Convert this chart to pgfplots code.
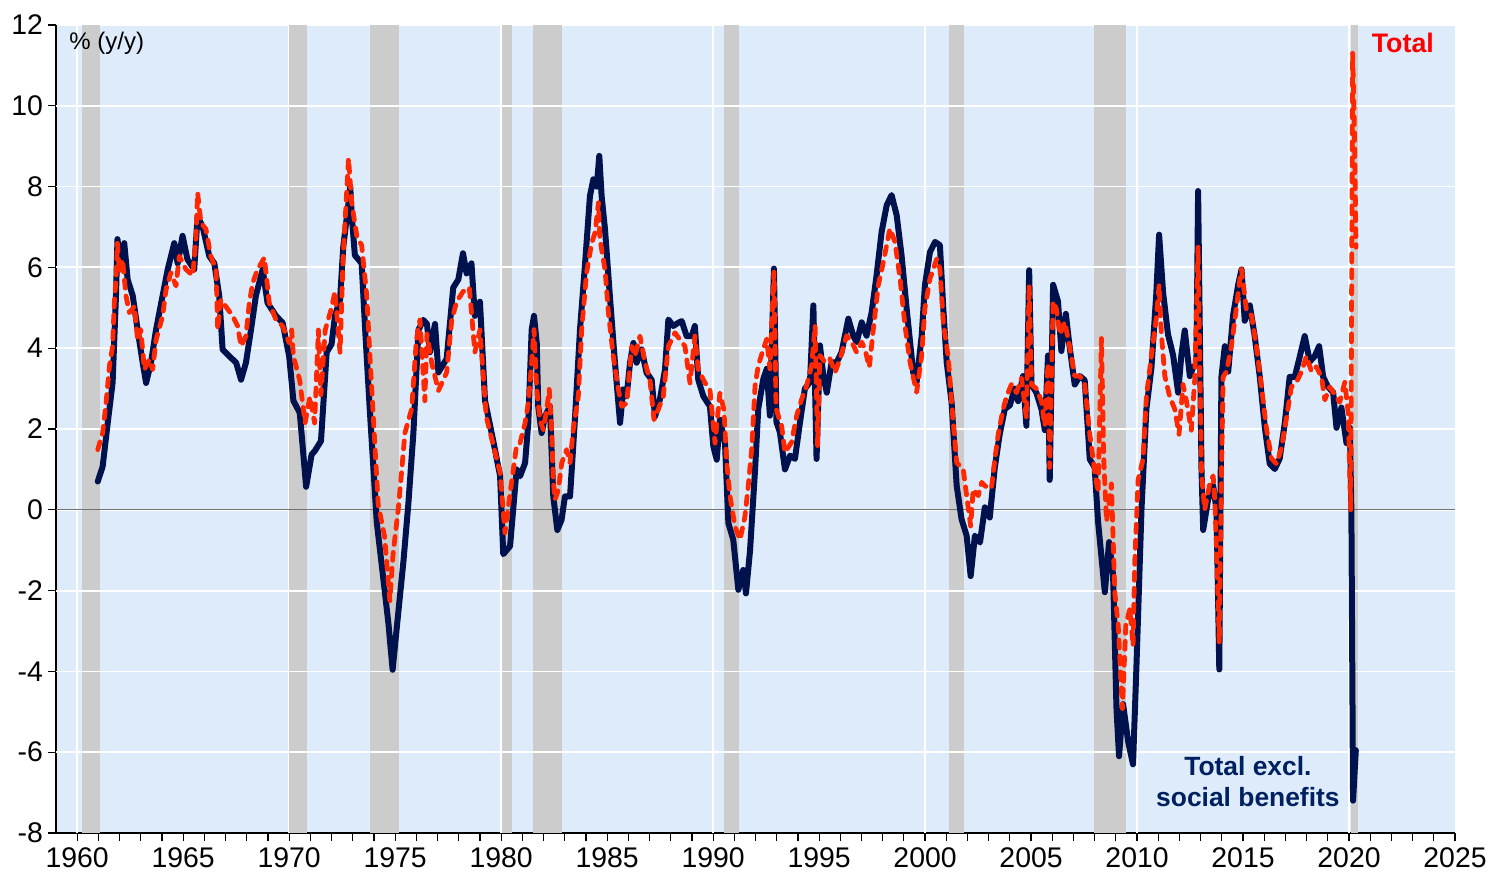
\documentclass[border=0pt]{standalone}
\usepackage{pgfplots}
\pgfplotsset{compat=1.18}
\usepackage{pgfplotstable}
\usepackage{fontspec}
\setmainfont{Liberation Sans}
\definecolor{bgblue}{RGB}{221,235,251}
\definecolor{recgray}{RGB}{204,204,204}
\definecolor{navy}{RGB}{0,18,77}
\definecolor{redor}{RGB}{255,40,0}
\definecolor{lblnavy}{RGB}{0,32,96}

\pgfplotstableread{
x y
1960.97 0.70
1961.20 1.07
1961.44 2.15
1961.67 3.14
1961.83 5.30
1961.90 6.70
1962.07 5.95
1962.22 6.60
1962.38 5.70
1962.62 5.30
1962.85 4.46
1963.09 3.64
1963.25 3.14
1963.48 3.64
1963.72 4.46
1964.03 5.30
1964.27 5.95
1964.58 6.60
1964.74 6.10
1964.97 6.78
1965.20 6.20
1965.52 5.95
1965.68 7.27
1965.92 7.00
1966.23 6.28
1966.47 6.10
1966.70 5.30
1966.86 3.97
1967.18 3.80
1967.50 3.64
1967.73 3.22
1967.96 3.64
1968.20 4.46
1968.43 5.30
1968.75 5.95
1968.98 5.12
1969.38 4.80
1969.69 4.63
1970.00 3.80
1970.20 2.70
1970.50 2.40
1970.80 0.57
1971.06 1.37
1971.20 1.45
1971.50 1.70
1971.77 3.90
1972.00 4.10
1972.16 4.80
1972.40 5.20
1972.55 6.50
1972.80 7.60
1972.88 8.00
1972.95 7.30
1973.10 6.30
1973.42 6.10
1973.58 4.50
1973.80 2.50
1974.13 -0.30
1974.44 -1.70
1974.68 -2.80
1974.88 -3.96
1975.07 -2.95
1975.39 -1.28
1975.62 0.13
1975.86 1.90
1976.10 4.45
1976.33 4.70
1976.50 4.60
1976.64 3.90
1976.88 4.60
1977.04 3.40
1977.43 3.74
1977.74 5.50
1977.98 5.70
1978.20 6.35
1978.37 5.85
1978.60 6.10
1978.76 4.80
1979.00 5.15
1979.24 2.70
1979.63 1.70
1979.95 0.84
1980.10 -1.10
1980.42 -0.90
1980.73 1.00
1980.89 0.83
1981.13 1.16
1981.28 2.15
1981.44 4.46
1981.55 4.80
1981.68 4.13
1981.75 2.56
1981.91 1.90
1982.07 2.31
1982.30 2.56
1982.46 0.33
1982.65 -0.50
1982.85 -0.25
1983.01 0.33
1983.25 0.33
1983.48 2.23
1983.72 4.46
1983.96 6.10
1984.19 7.77
1984.35 8.18
1984.51 8.00
1984.63 8.76
1984.74 7.77
1984.90 6.94
1985.13 5.29
1985.37 3.64
1985.61 2.15
1985.76 2.98
1985.92 2.81
1986.08 3.64
1986.24 4.13
1986.39 3.64
1986.63 3.97
1986.86 3.39
1987.10 3.22
1987.26 2.31
1987.49 2.73
1987.73 3.47
1987.89 4.71
1988.12 4.55
1988.36 4.63
1988.52 4.67
1988.75 4.30
1988.99 4.30
1989.14 4.55
1989.30 3.22
1989.54 2.81
1989.85 2.56
1990.01 1.57
1990.17 1.24
1990.32 2.23
1990.56 1.65
1990.72 -0.33
1990.95 -0.74
1991.19 -1.98
1991.42 -1.49
1991.55 -2.07
1991.74 -1.02
1991.98 1.00
1992.13 2.50
1992.37 3.24
1992.53 3.49
1992.68 2.33
1992.87 5.97
1992.99 2.17
1993.15 1.92
1993.39 1.00
1993.63 1.34
1993.86 1.26
1994.10 2.17
1994.33 3.00
1994.57 3.16
1994.73 5.06
1994.88 1.26
1995.04 4.07
1995.20 3.32
1995.36 2.90
1995.59 3.65
1995.83 3.65
1996.06 3.90
1996.38 4.73
1996.61 4.31
1996.77 4.15
1997.01 4.64
1997.24 4.31
1997.48 4.89
1997.71 5.80
1997.95 6.88
1998.19 7.54
1998.42 7.79
1998.66 7.29
1998.89 6.30
1999.13 4.98
1999.44 3.40
1999.60 3.16
1999.84 4.31
1999.99 5.55
2000.23 6.38
2000.47 6.63
2000.70 6.55
2000.86 4.98
2001.02 3.65
2001.25 2.66
2001.49 0.60
2001.72 -0.23
2001.96 -0.64
2002.15 -1.64
2002.35 -0.64
2002.59 -0.81
2002.82 0.06
2003.05 -0.19
2003.29 1.05
2003.52 1.87
2003.76 2.49
2004.00 2.59
2004.23 3.00
2004.39 2.69
2004.62 3.31
2004.78 2.08
2004.91 5.93
2005.02 3.10
2005.25 2.90
2005.49 2.49
2005.65 1.97
2005.80 3.82
2005.88 0.74
2006.04 5.57
2006.27 5.16
2006.43 3.93
2006.64 4.85
2006.82 4.03
2007.06 3.10
2007.30 3.31
2007.53 3.21
2007.77 1.25
2008.00 1.05
2008.16 -0.29
2008.48 -2.04
2008.68 -0.80
2008.87 -1.62
2009.03 -4.92
2009.15 -6.10
2009.34 -4.81
2009.58 -5.74
2009.81 -6.30
2009.97 -3.89
2010.21 0.02
2010.44 2.49
2010.68 3.52
2010.91 5.37
2011.04 6.81
2011.23 5.37
2011.46 4.34
2011.70 3.83
2011.94 2.90
2012.09 3.83
2012.25 4.44
2012.49 3.31
2012.64 3.52
2012.80 3.60
2012.88 7.89
2013.04 1.00
2013.12 -0.50
2013.35 0.25
2013.59 0.60
2013.75 0.00
2013.88 -3.95
2013.98 3.29
2014.14 4.05
2014.30 3.42
2014.53 4.81
2014.77 5.57
2014.93 5.95
2015.08 4.68
2015.32 5.06
2015.55 4.30
2015.79 3.29
2016.03 2.03
2016.26 1.14
2016.50 1.01
2016.73 1.27
2016.97 2.15
2017.20 3.29
2017.44 3.29
2017.68 3.80
2017.91 4.30
2018.15 3.67
2018.38 3.80
2018.59 4.05
2018.78 3.29
2019.01 3.04
2019.25 2.91
2019.41 2.03
2019.64 2.53
2019.88 1.65
2020.04 2.03
2020.11 0.00
2020.19 -7.20
2020.32 -5.95
}\exclsb

\pgfplotstableread{
x y
1960.97 1.49
1961.20 1.90
1961.36 2.64
1961.52 3.55
1961.67 4.05
1961.75 5.12
1961.83 5.70
1961.90 6.60
1961.99 5.87
1962.14 6.20
1962.30 5.30
1962.46 4.88
1962.70 5.04
1962.85 4.20
1963.00 4.46
1963.17 3.47
1963.40 3.72
1963.56 3.47
1963.72 4.20
1964.03 4.80
1964.19 5.45
1964.42 5.87
1964.66 5.54
1964.82 6.28
1965.13 5.95
1965.45 5.80
1965.60 6.70
1965.68 7.85
1965.84 7.10
1966.07 6.95
1966.30 6.28
1966.55 5.95
1966.63 4.46
1966.78 5.20
1967.00 5.04
1967.33 4.80
1967.57 4.55
1967.73 4.05
1967.96 4.30
1968.12 5.12
1968.28 5.62
1968.51 5.95
1968.83 6.24
1969.06 5.12
1969.38 4.70
1969.69 4.55
1970.00 4.13
1970.12 4.45
1970.20 3.80
1970.50 3.20
1970.75 2.15
1970.98 2.80
1971.20 2.15
1971.38 4.45
1971.50 2.85
1971.70 4.45
1972.00 5.00
1972.16 5.40
1972.40 3.90
1972.55 6.30
1972.80 8.70
1972.95 7.60
1973.20 6.75
1973.42 6.55
1973.66 5.30
1973.80 3.90
1973.97 2.30
1974.20 0.13
1974.50 -0.66
1974.75 -2.25
1974.90 -1.10
1975.15 0.04
1975.30 0.92
1975.46 1.90
1975.78 2.50
1976.00 4.20
1976.17 4.70
1976.40 2.70
1976.50 4.35
1976.72 3.65
1977.04 2.95
1977.43 3.40
1977.67 4.70
1977.90 5.15
1978.20 5.40
1978.50 5.50
1978.76 3.90
1979.00 4.45
1979.30 2.30
1979.63 1.60
1979.95 0.92
1980.18 -0.57
1980.42 0.40
1980.73 1.60
1980.89 1.65
1981.13 2.15
1981.28 2.64
1981.44 3.64
1981.55 4.46
1981.68 2.98
1981.83 2.23
1981.99 1.98
1982.15 2.48
1982.27 2.98
1982.38 1.98
1982.46 0.74
1982.54 0.25
1982.70 0.50
1982.86 1.16
1983.09 1.49
1983.25 1.16
1983.40 1.98
1983.64 2.81
1983.80 4.46
1984.03 5.87
1984.27 6.60
1984.43 6.86
1984.59 7.60
1984.66 6.70
1984.90 5.95
1985.06 4.88
1985.29 3.80
1985.53 2.98
1985.69 2.56
1985.92 2.64
1986.16 4.05
1986.31 3.80
1986.55 4.30
1986.79 3.64
1987.02 3.22
1987.21 2.23
1987.41 2.48
1987.65 2.81
1987.89 4.05
1988.20 4.38
1988.44 4.21
1988.67 4.05
1988.91 3.14
1989.14 4.30
1989.30 3.47
1989.62 3.14
1989.85 2.98
1990.09 1.65
1990.32 2.89
1990.51 2.48
1990.64 1.16
1990.80 0.33
1991.03 -0.41
1991.27 -0.74
1991.50 -0.17
1991.66 0.60
1991.82 1.50
1991.98 3.07
1992.13 3.57
1992.37 3.98
1992.53 4.23
1992.68 3.49
1992.87 5.88
1992.97 2.50
1993.23 2.08
1993.39 1.42
1993.70 1.67
1993.94 2.33
1994.18 2.74
1994.41 3.07
1994.65 3.57
1994.81 4.56
1994.93 1.59
1995.04 3.82
1995.28 3.65
1995.51 3.74
1995.75 3.40
1995.99 3.74
1996.30 4.31
1996.54 4.15
1996.77 3.90
1997.01 4.15
1997.16 3.98
1997.37 3.53
1997.56 4.48
1997.79 5.55
1998.03 6.13
1998.34 6.96
1998.58 6.63
1998.82 5.72
1999.05 4.56
1999.29 3.65
1999.60 2.91
1999.84 3.82
1999.99 4.98
2000.23 5.72
2000.55 6.21
2000.70 5.97
2000.86 4.64
2001.10 3.74
2001.25 2.66
2001.49 1.17
2001.80 1.00
2001.96 0.35
2002.15 -0.40
2002.27 0.51
2002.51 0.35
2002.67 0.68
2002.86 0.58
2003.13 0.53
2003.29 1.25
2003.45 1.87
2003.68 2.49
2003.84 2.80
2004.07 3.10
2004.31 2.90
2004.55 3.26
2004.78 2.28
2004.91 5.57
2005.02 3.10
2005.25 3.00
2005.49 2.69
2005.65 2.08
2005.80 3.62
2005.88 1.05
2006.04 5.16
2006.20 4.96
2006.36 4.34
2006.59 4.65
2006.82 4.03
2007.06 3.31
2007.30 3.31
2007.53 3.10
2007.77 1.87
2008.00 0.95
2008.16 0.43
2008.32 4.24
2008.43 1.25
2008.56 -0.29
2008.79 0.64
2008.95 -2.04
2009.11 -2.86
2009.31 -4.92
2009.47 -2.86
2009.66 -2.45
2009.81 -3.37
2009.89 -1.32
2010.05 0.74
2010.28 1.25
2010.44 2.80
2010.68 3.83
2010.91 4.75
2011.04 5.57
2011.15 4.34
2011.31 3.31
2011.54 2.80
2011.78 2.49
2011.98 1.87
2012.17 3.10
2012.33 2.69
2012.56 1.97
2012.72 3.21
2012.88 6.50
2013.04 0.90
2013.19 0.00
2013.43 0.64
2013.59 0.84
2013.67 0.25
2013.78 -1.52
2013.88 -3.29
2013.98 0.76
2014.06 3.29
2014.22 3.42
2014.45 4.05
2014.61 4.68
2014.85 5.70
2014.93 5.95
2015.16 4.94
2015.40 4.81
2015.63 4.05
2015.87 3.04
2016.10 2.03
2016.34 1.27
2016.58 1.14
2016.81 1.52
2017.05 2.28
2017.28 3.04
2017.52 3.16
2017.76 3.42
2017.99 3.80
2018.23 3.42
2018.46 3.54
2018.70 3.29
2018.86 2.72
2019.09 3.04
2019.33 2.85
2019.56 2.66
2019.80 3.16
2019.96 2.41
2020.08 0.00
2020.17 11.30
2020.25 9.50
2020.33 6.50
}\total

\begin{document}
\begin{tikzpicture}
\useasboundingbox (-28pt,-20pt) rectangle (723pt,416.5pt);
\begin{axis}[
  scale only axis, width=699.5pt, height=404pt,
  at={(0,0)}, anchor=south west,
  xmin=1959, xmax=2025, ymin=-8, ymax=12,
  axis x line*=bottom, axis y line*=left,
  axis line style={black, line width=0.8pt},
  xtick={1960,1965,...,2025}, minor x tick num=4,
  ytick={-8,-6,...,12},
  tick align=outside,
  major tick length=4pt, minor tick length=4pt,
  tick style={black, line width=0.6pt},
  ymajorgrids, major grid style={white, line width=0.9pt},
  extra x ticks={1960,1970,...,2020}, extra x tick labels={},
  extra x tick style={xmajorgrids=true, ymajorgrids=false, major tick length=0pt},
  axis background/.style={fill=bgblue},
  ticklabel style={font=\fontsize{14.2}{16}\selectfont},
  yticklabel style={xshift=1pt},
  /pgf/number format/assume math mode=true,
  /pgf/number format/1000 sep={},
]
\addplot[fill=recgray, draw=none] coordinates {(1960.25,-8)(1960.25,12)(1961.08,12)(1961.08,-8)};
\addplot[fill=recgray, draw=none] coordinates {(1970.0,-8)(1970.0,12)(1970.85,12)(1970.85,-8)};
\addplot[fill=recgray, draw=none] coordinates {(1973.83,-8)(1973.83,12)(1975.2,12)(1975.2,-8)};
\addplot[fill=recgray, draw=none] coordinates {(1980.05,-8)(1980.05,12)(1980.5,12)(1980.5,-8)};
\addplot[fill=recgray, draw=none] coordinates {(1981.5,-8)(1981.5,12)(1982.87,12)(1982.87,-8)};
\addplot[fill=recgray, draw=none] coordinates {(1990.5,-8)(1990.5,12)(1991.2,12)(1991.2,-8)};
\addplot[fill=recgray, draw=none] coordinates {(2001.15,-8)(2001.15,12)(2001.85,12)(2001.85,-8)};
\addplot[fill=recgray, draw=none] coordinates {(2007.95,-8)(2007.95,12)(2009.5,12)(2009.5,-8)};
\addplot[fill=recgray, draw=none] coordinates {(2020.1,-8)(2020.1,12)(2020.42,12)(2020.42,-8)};

\pgfplotsinvokeforeach{-6,-4,-2,2,4,6,8,10}{
  \addplot[white, line width=0.9pt] coordinates {(1959,#1)(2025,#1)};
}

\addplot[black!55, line width=0.6pt] coordinates {(1959,0)(2025,0)};

\addplot[navy, line width=3pt, line join=round, line cap=round] table[x=x,y=y] {\exclsb};
\addplot[redor, line width=2.4pt, line join=round, line cap=round, dash pattern=on 4pt off 4pt] table[x=x,y=y] {\total};

\node[anchor=west, font=\fontsize{12}{14}\selectfont] at (axis cs:1959.3,11.55) {\% (y/y)};
\node[font=\bfseries\fontsize{13.4}{16}\selectfont, text=red] at (axis cs:2022.54,11.56) {Total};
\node[align=center, font=\bfseries\fontsize{13.2}{15.5}\selectfont, text=lblnavy] at (axis cs:2015.23,-6.72) {Total excl.\\social benefits};
\end{axis}
\end{tikzpicture}
\end{document}
